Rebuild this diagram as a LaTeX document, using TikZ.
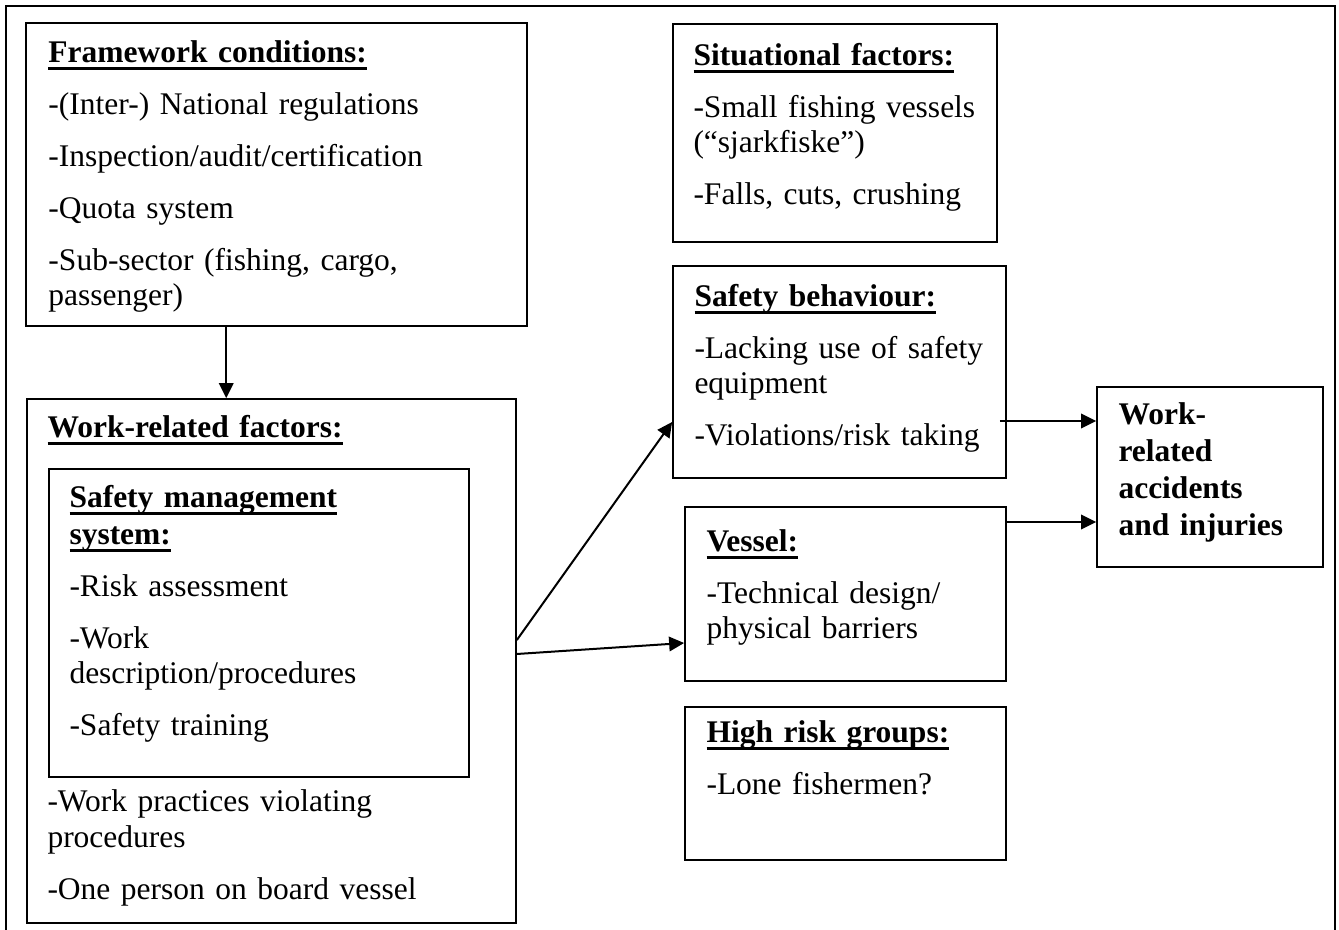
\documentclass[tikz,border=0pt]{standalone}
\usepackage{fontspec}
\setmainfont{Liberation Serif}
\usetikzlibrary{arrows.meta,calc,fit}

\tikzset{
  box/.style={draw,line width=0.7pt,inner sep=0pt},
  txt/.style={anchor=base west,inner sep=0pt,align=left,font=\fontsize{12.6}{14}\selectfont},
  arr/.style={line width=0.8pt,-{Triangle[length=6pt,width=5.8pt]}}
}
\newsavebox\hdbox
\newcommand{\hd}[1]{\leavevmode\sbox\hdbox{\textbf{#1}}\rlap{\rule[-2.8pt]{\wd\hdbox}{1.1pt}}\usebox\hdbox}
\newcommand{\gap}{\\[6.8pt]}

\begin{document}
\begin{tikzpicture}[x=0.4pt,y=-0.4pt]
\useasboundingbox (0,0) rectangle (1339,930);
% outer frame, open at the bottom
\draw[line width=0.8pt] (6,930) -- (6,6) -- (1335,6) -- (1335,930);

% left column
\node[box,fit={(26,23) (527,326)}] (frame) {};
\node[txt,text width=188pt] (frametxt) at (48,63) {\hd{Framework conditions:}\gap
  -(Inter-) National regulations\gap
  -Inspection/audit/certification\gap
  -Quota system\gap
  -Sub-sector (fishing, cargo,\\passenger)};

\node[box,fit={(27,399) (516,923)}] (work) {};
\node[txt,text width=180pt] (worktxt) at (47,438) {\hd{Work-related factors:}};
\node[box,fit={(49,469) (469,777)}] (sms) {};
\node[txt,text width=155pt] (smstxt) at (69,508) {\hd{Safety management}\\[0.8pt]\hd{system:}\gap
  -Risk assessment\gap
  -Work\\description/procedures\gap
  -Safety training};
\node[txt,text width=180pt] (worktail) at (47,812) {-Work practices violating\\procedures\gap
  -One person on board vessel};

% right column
\node[box,fit={(673,24) (997,242)}] (situ) {};
\node[txt,text width=120pt] (situtxt) at (693,66) {\hd{Situational factors:}\gap
  -Small fishing vessels\\(“sjarkfiske”)\gap
  -Falls, cuts, crushing};

\node[box,fit={(673,266) (1006,478)}] (behav) {};
\node[txt,text width=122pt] (behavtxt) at (694,307) {\hd{Safety behaviour:}\gap
  -Lacking use of safety\\equipment\gap
  -Violations/risk taking};

\node[box,fit={(685,507) (1006,681)}] (vessel) {};
\node[txt,text width=118pt] (vesseltxt) at (706,552) {\hd{Vessel:}\gap
  -Technical design/\\physical barriers};

\node[box,fit={(685,707) (1006,860)}] (risk) {};
\node[txt,text width=118pt] (risktxt) at (706,743) {\hd{High risk groups:}\gap
  -Lone fishermen?};

\node[box,fit={(1097,387) (1323,567)}] (acc) {};
\node[txt,text width=80pt] (acctxt) at (1118,425) {\textbf{Work-\\[0.8pt]related\\[0.8pt]accidents\\[0.8pt]and injuries}};

% arrows
\coordinate (f1) at ($(frame.south west)!0.4!(frame.south east)$);
\draw[arr] (f1) -- (f1 |- work.north);
\draw[arr] ($(work.east)+(0,-21)$) -- ($(behav.west)+(0,50)$);
\draw[arr] ($(work.east)+(0,-7)$) -- ($(vessel.west)+(0,49)$);
\coordinate (b1) at ($(behav.east)+(-7,49)$);
\draw[arr] (b1) -- (b1 -| acc.west);
\coordinate (v1) at ($(vessel.east)+(0,-72)$);
\draw[arr] (v1) -- (v1 -| acc.west);
\end{tikzpicture}
\end{document}
